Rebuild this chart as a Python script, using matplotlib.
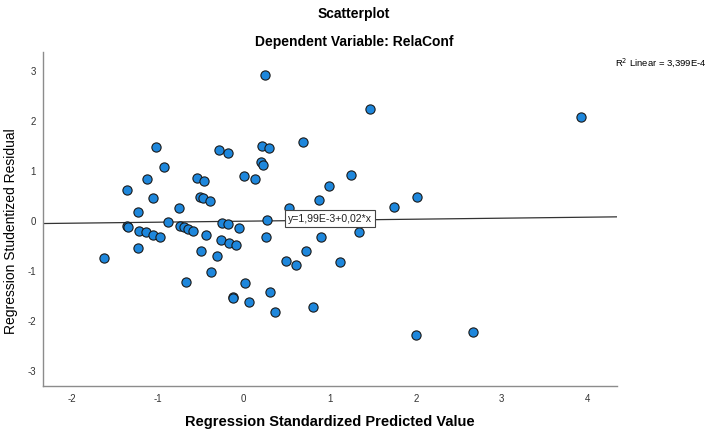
import numpy as np
import matplotlib
matplotlib.use("Agg")
import matplotlib.pyplot as plt

plt.rcParams['font.family'] = ['Liberation Sans', 'DejaVu Sans']
plt.rcParams['axes.unicode_minus'] = False

# predicted (standardized) vs studentized residual
pred = [0.244, -1.015, -0.287, -0.186, 0.213, 0.298, 0.694, -0.926, 0.20, 0.221,
        -1.13, -0.546, -0.461, 0.004, 0.136, 0.996, -1.36, -1.058, -0.508, -0.477,
        -0.39, 0.872, -0.752, -1.225, 0.523, -0.88, -1.36, -1.345, 0.275, -0.248,
        -0.18, -0.744, -0.694, -0.643, -0.585, -1.22, -1.14, -1.055, -0.977, -0.054,
        -0.434, 0.264, 0.895, -0.26, -0.174, -0.089, -1.229, -0.492, -0.306, -1.62,
        0.721, 0.496, 0.608, 1.12, -0.376, -0.674, 0.02, 0.31, -0.124, -0.12,
        0.062, 0.364, 0.80, 1.465, 3.92, 1.248, 2.01, 1.748, 1.337, 2.0, 2.66]
resid = [2.92, 1.48, 1.42, 1.36, 1.50, 1.47, 1.58, 1.08, 1.19, 1.13,
         0.84, 0.86, 0.81, 0.90, 0.84, 0.70, 0.63, 0.46, 0.48, 0.47,
         0.41, 0.42, 0.27, 0.18, 0.26, -0.02, -0.10, -0.11, 0.03, -0.03,
         -0.06, -0.09, -0.12, -0.16, -0.19, -0.19, -0.22, -0.27, -0.32, -0.14,
         -0.27, -0.31, -0.32, -0.38, -0.44, -0.47, -0.54, -0.59, -0.70, -0.74,
         -0.60, -0.80, -0.88, -0.82, -1.02, -1.21, -1.24, -1.41, -1.52, -1.53,
         -1.62, -1.82, -1.71, 2.24, 2.08, 0.92, 0.48, 0.28, -0.22, -2.28, -2.21]

# fit line as reported by SPSS
intercept = 1.99e-3
slope = 0.02
xticks = [-2, -1, 0, 1, 2, 3, 4]
yticks = [-3, -2, -1, 0, 1, 2, 3]

fig = plt.figure(figsize=(7.08, 4.34), dpi=100)
ax = fig.add_axes([0.0607, 0.1106, 0.8108, 0.7694])

xlim = (-2.334, 4.34)
ax.set_xlim(xlim)
ax.set_ylim(-3.29, 3.38)

xs = np.array(xlim)
ax.plot(xs, intercept + slope * xs, color='#333333', lw=0.9, zorder=2)

ax.scatter(pred, resid, s=44, c='#1E87DC', edgecolors='#1a1a1a', linewidths=0.8, zorder=3)

# equation label sits at the middle of the axes, on the line
xm = sum(xlim) / 2
ax.text(xm, intercept + slope * xm + 0.03, 'y=1,99E-3+0,02*x', fontsize=7.6,
        ha='center', va='center', color='#222222', zorder=4,
        bbox=dict(boxstyle='square,pad=0.32', fc='white', ec='#444444', lw=0.8))

ax.set_xticks(xticks)
ax.set_yticks(yticks)
ax.tick_params(length=0, labelsize=7, colors='#333333')
ax.tick_params(axis='x', pad=6)
ax.tick_params(axis='y', pad=5)
for s in ['top', 'right']:
    ax.spines[s].set_visible(False)
for s in ['left', 'bottom']:
    ax.spines[s].set_color('#8c8c8c')
    ax.spines[s].set_linewidth(1.0)

# axis titles
fig.text(0.466, 0.028, 'Regression Standardized Predicted Value', ha='center',
         va='center', fontsize=10.5, fontweight='bold')
fig.text(0.016, 0.468, 'Regression Studentized Residual', ha='center',
         va='center', rotation=90, fontsize=10)

fig.text(0.5, 0.967, 'Scatterplot', ha='center', va='center', fontsize=10,
         fontweight='bold')
fig.text(0.5, 0.903, 'Dependent Variable: RelaConf', ha='center', va='center',
         fontsize=10, fontweight='bold')
fig.text(0.998, 0.857, 'R$^2$ Linear = 3,399E-4', ha='right', va='center',
         fontsize=6.8)

fig.savefig('out.png', dpi=100)
